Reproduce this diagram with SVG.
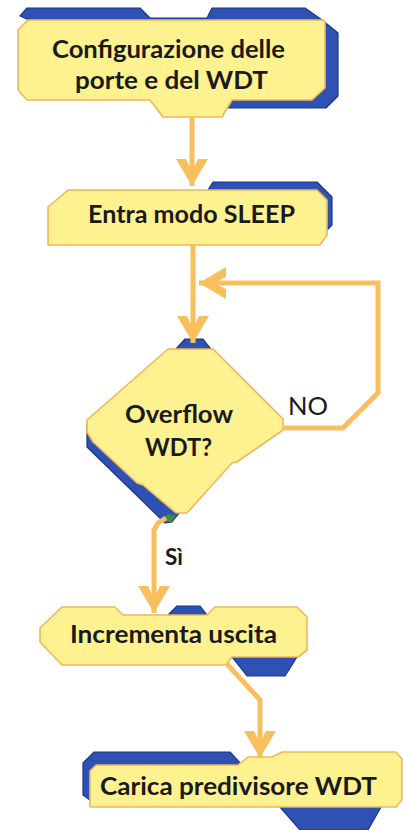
<svg xmlns="http://www.w3.org/2000/svg" width="403" height="830" viewBox="0 0 403 830">
<style>
.y{fill:#FEF190;stroke:#F0B65A;stroke-width:1.6;stroke-linejoin:round}
.b{fill:#2E52B4;stroke:#1B3585;stroke-width:1.2;stroke-linejoin:round}
.t{font-family:Lato,"Open Sans","Liberation Sans",sans-serif;font-weight:bold;font-size:25px;fill:#1a1a1a;text-anchor:middle}
.c{fill:none;stroke:#F7BF5E;stroke-width:5;stroke-linejoin:miter}
</style>
<defs>
<marker id="chev" viewBox="-28 -18 30 36" markerUnits="userSpaceOnUse" markerWidth="30" markerHeight="36" refX="0" refY="0" orient="auto">
<path d="M0,0 L-27,-16 L-27,-6 L-15,0 L-27,6 L-27,16 Z" fill="#F7BF5E"/>
</marker>
</defs>
<rect width="403" height="830" fill="#ffffff"/>

<g id="n1">
<polygon class="b" points="20,16 27,8 140,8 150,18 207,18 212,8 305,8 322,20 338,33 338,96 326,108 228,108"/>
<polygon class="y" points="18,30 28,20 323,20 325,22 325,88 312,100 232,100 222,117 163,117 150,100 27,100 18,90"/>
<text class="t" x="168.5" y="58" textLength="233" lengthAdjust="spacingAndGlyphs">Configurazione delle</text>
<text class="t" x="171.5" y="89" textLength="193" lengthAdjust="spacingAndGlyphs">porte e del WDT</text>
</g>

<g id="n2">
<polygon class="b" points="208,190 213,182 317,182 332,197 332,225 327,230"/>
<polygon class="y" points="48,207 68,190 317,190 327,200 327,235 320,245 48,245"/>
<text class="t" x="191.5" y="223" textLength="207" lengthAdjust="spacingAndGlyphs">Entra modo SLEEP</text>
</g>

<g id="n3">
<polygon class="b" points="176,349 185,339 203,339 211,349"/>
<polygon class="b" points="87,425 87,447 165,523 172,522 180,512"/>
<polygon fill="#3C8F44" points="163,519 168,514 176,516 171,523"/>
<polygon class="y" points="168,349 213,349 283,419 283,430 237,462 232,463 187,513 176,513 143,485 137,483 93,442 87,432 87,420"/>
<text class="t" x="179" y="423" textLength="108" lengthAdjust="spacingAndGlyphs">Overflow</text>
<text class="t" x="178.5" y="456" textLength="67" lengthAdjust="spacingAndGlyphs">WDT?</text>
</g>

<g id="n4">
<polygon class="b" points="168,615 177,606 200,606 207,615"/>
<polygon class="b" points="232,657 297,657 285,676 247,676"/>
<polygon class="y" points="40,628 62,607 115,607 123,615 207,615 215,607 297,607 307,617 307,650 298,657 232,657 226,665 62,665 40,642"/>
<text class="t" x="173.5" y="643" textLength="207" lengthAdjust="spacingAndGlyphs">Incrementa uscita</text>
</g>

<g id="n5">
<polygon class="b" points="83,763 94,752 230,752 242,765 90,800 83,795"/>
<polygon class="b" points="280,807 381,807 368,830 300,830"/>
<polygon class="y" points="90,771 96,765 238,765 248,757 272,757 282,752 396,752 402,759 402,800 396,807 90,807"/>
<text class="t" x="238.5" y="795" textLength="277" lengthAdjust="spacingAndGlyphs">Carica predivisore WDT</text>
</g>

<g id="connectors">
<path class="c" d="M192,117 L192,186" marker-end="url(#chev)"/>
<path class="c" d="M193,245 L193,343" marker-end="url(#chev)"/>
<path class="c" d="M284,428 L343,428 L378,393 L378,283 L199,283" marker-end="url(#chev)"/>
<path class="c" d="M166,518 L158,523 L154,530 L154,613" marker-end="url(#chev)"/>
<path class="c" d="M227,664 L260,700 L260,758" marker-end="url(#chev)"/>
<text x="288" y="415" font-family="Lato,'Open Sans','Liberation Sans',sans-serif" font-size="25" fill="#1a1a1a" textLength="40" lengthAdjust="spacingAndGlyphs">NO</text>
<text x="165" y="565" font-family="Lato,'Open Sans','Liberation Sans',sans-serif" font-weight="bold" font-size="22" fill="#1a1a1a" textLength="18" lengthAdjust="spacingAndGlyphs">Sì</text>
</g>
</svg>
